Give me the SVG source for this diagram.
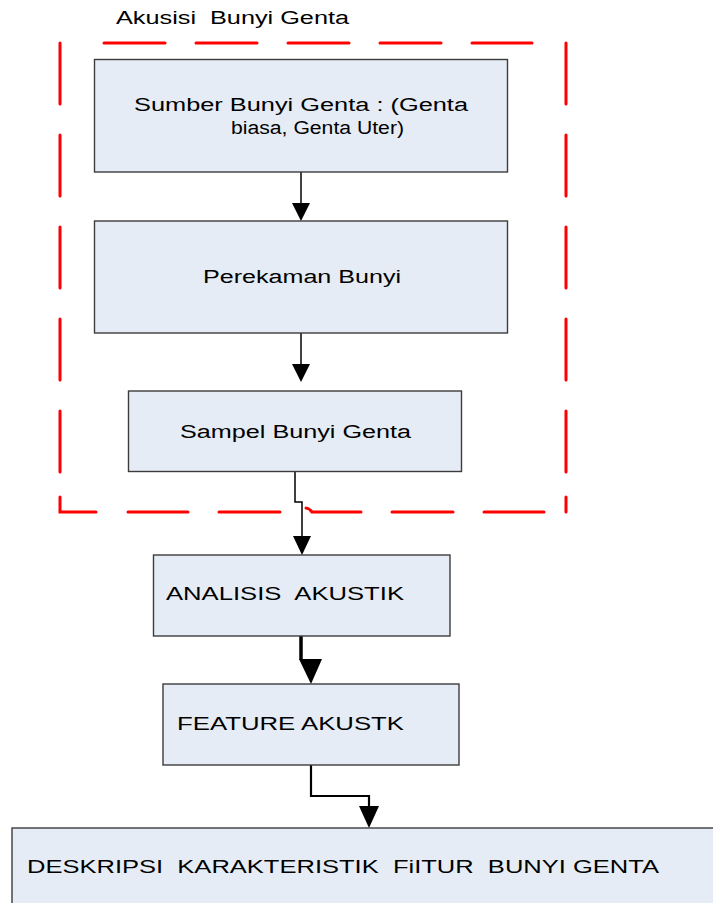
<svg xmlns="http://www.w3.org/2000/svg" width="713" height="903" viewBox="0 0 713 903">
<style>
.box{fill:#e6ecf6;stroke:#3c3c3c;stroke-width:1.4}
.t{font-family:"Liberation Sans",Arial,sans-serif;font-size:18px;fill:#000;white-space:pre}
.red{fill:none;stroke:#ff0000;stroke-width:3;stroke-linecap:round}
.ln{fill:none;stroke:#000;stroke-width:1.5}
.head{fill:#000}
</style>
<rect width="713" height="903" fill="#fff"/>
<g id="boundary">
<path class="red" d="M60,43 V104 M60,135 V196 M60,227 V288 M60,319 V380 M60,411 V472 M60,497 V512 H96 M128,512 H188 M219,512 H280 M306,508 Q309,508 312,512 H361 M392,512 H453 M484,512 H544 M566,497 V512 M566,411 V472 M566,319 V380 M566,227 V288 M566,135 V196 M566,43 V104 M104,43 H165 M196,43 H257 M288,43 H349 M380,43 H441 M472,43 H532"/>
<text class="t" x="116" y="24" textLength="233" lengthAdjust="spacingAndGlyphs" font-size="19">Akusisi&#160; Bunyi Genta</text>
</g>
<g id="connectors">
<path class="ln" d="M301,172 V203"/>
<polygon class="head" points="292,203 310,203 301,221"/>
<path class="ln" d="M301,333 V364"/>
<polygon class="head" points="292,364 310,364 301,382"/>
<path class="ln" d="M295,471.5 V502 H302 V536"/>
<polygon class="head" points="293,536 311,536 302,555"/>
<path fill="none" stroke="#000" stroke-width="3.5" d="M301,636 V660"/>
<polygon class="head" points="299,659 322,659 311,684"/>
<path fill="none" stroke="#000" stroke-width="2.2" d="M311,765 V796 H369 V806"/>
<polygon class="head" points="359,806 379,806 369,828"/>
</g>
<g id="n1">
<rect class="box" x="94.5" y="59.5" width="413" height="112.5"/>
<text class="t" x="134" y="111" textLength="334" lengthAdjust="spacingAndGlyphs">Sumber Bunyi Genta : (Genta</text>
<text class="t" x="231" y="134" textLength="173" lengthAdjust="spacingAndGlyphs">biasa, Genta Uter)</text>
</g>
<g id="n2">
<rect class="box" x="94.5" y="221" width="413" height="112"/>
<text class="t" x="203" y="283" textLength="198" lengthAdjust="spacingAndGlyphs">Perekaman Bunyi</text>
</g>
<g id="n3">
<rect class="box" x="128.5" y="391" width="333" height="80.5"/>
<text class="t" x="180" y="438" textLength="231" lengthAdjust="spacingAndGlyphs">Sampel Bunyi Genta</text>
</g>
<g id="n4">
<rect class="box" x="153.5" y="555" width="296.5" height="81"/>
<text class="t" x="166" y="600" textLength="238" lengthAdjust="spacingAndGlyphs">ANALISIS&#160; AKUSTIK</text>
</g>
<g id="n5">
<rect class="box" x="163" y="684" width="296" height="81"/>
<text class="t" x="177" y="730" textLength="227" lengthAdjust="spacingAndGlyphs">FEATURE AKUSTK</text>
</g>
<g id="n6">
<rect class="box" x="12" y="828" width="710" height="85"/>
<text class="t" x="27" y="873" textLength="632" lengthAdjust="spacingAndGlyphs">DESKRIPSI&#160; KARAKTERISTIK&#160; FiITUR&#160; BUNYI GENTA</text>
</g>
</svg>
